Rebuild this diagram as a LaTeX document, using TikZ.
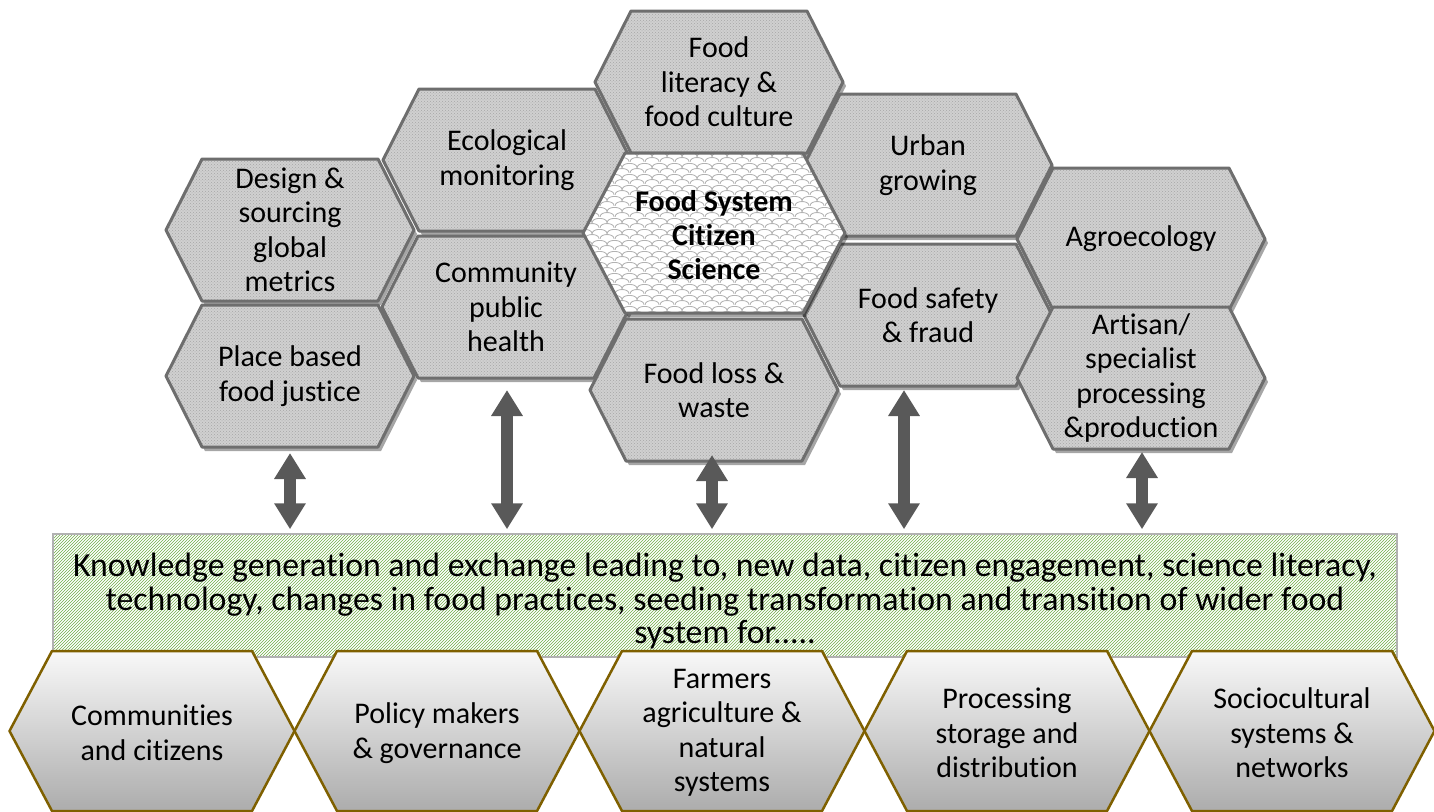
\documentclass[tikz,border=0pt]{standalone}
\usepackage{fontspec}
\setmainfont[Ligatures=NoCommon]{Carlito}
\usetikzlibrary{arrows.meta,patterns,calc}

% scale-like fill of the central cell
\pgfdeclarepatternformonly{scales}{\pgfqpoint{0pt}{0pt}}{\pgfqpoint{15pt}{11pt}}{\pgfqpoint{15pt}{11pt}}{%
  \pgfsetlinewidth{0.9pt}
  \pgfpathmoveto{\pgfqpoint{0pt}{0pt}}
  \pgfpathcurveto{\pgfqpoint{0pt}{6.5pt}}{\pgfqpoint{15pt}{6.5pt}}{\pgfqpoint{15pt}{0pt}}
  \pgfpathmoveto{\pgfqpoint{-7.5pt}{5.5pt}}
  \pgfpathcurveto{\pgfqpoint{-7.5pt}{12pt}}{\pgfqpoint{7.5pt}{12pt}}{\pgfqpoint{7.5pt}{5.5pt}}
  \pgfpathcurveto{\pgfqpoint{7.5pt}{12pt}}{\pgfqpoint{22.5pt}{12pt}}{\pgfqpoint{22.5pt}{5.5pt}}
  \pgfusepath{stroke}}

\definecolor{cellgray}{RGB}{208,208,208}
\definecolor{edgegray}{RGB}{110,110,110}
\definecolor{arrowgray}{RGB}{89,89,89}
\definecolor{hatchgreen}{RGB}{112,173,71}
\definecolor{gold}{RGB}{127,96,0}

% flat-topped hexagon: centre x, centre y, half width, half height, slant
\newcommand\hexpath[5]{(#1-#3,#2) -- (#1-#3+#5,#2-#4) -- (#1+#3-#5,#2-#4) -- (#1+#3,#2) -- (#1+#3-#5,#2+#4) -- (#1-#3+#5,#2+#4) -- cycle}

\newcommand\topcell[4]{%
  \fill[cellshadow] \hexpath{#2+3}{#3+4}{124}{71}{36};
  \draw[cellline] \hexpath{#2}{#3}{124}{71}{36};
  \node[celltext] (#1) at (#2,#3) {#4};
  \coordinate (#1-s) at (#2,#3+71);}

\newcommand\groundcell[3]{%
  \path[groundline] \hexpath{#2}{731}{142.5}{80}{42.5};
  \node[celltext] (#1) at (#2,733) {#3};}

\begin{document}
\begin{tikzpicture}[x=1pt,y=-1pt,
  celltext/.style={align=center,font=\fontsize{30}{34.5}\selectfont,inner sep=0pt},
  cellshadow/.style={fill=black,opacity=0.35},
  cellline/.style={draw=edgegray,line width=3pt,line join=round,
    preaction={fill=cellgray},preaction={pattern=crosshatch dots,pattern color=gray!70}},
  hubline/.style={draw=edgegray,line width=3pt,line join=round,
    preaction={fill=white},preaction={pattern=scales,pattern color=gray!60}},
  knowbox/.style={draw=gray!60,line width=1.5pt,preaction={fill=white},
    pattern=north east lines,pattern color=hatchgreen,
    minimum width=1344pt,minimum height=123pt},
  knowtext/.style={align=center,inner sep=0pt,font=\fontsize{33.8}{33.5}\selectfont},
  groundline/.style={draw=gold,line width=2.5pt,line join=round,top color=gray!5,bottom color=gray!65},
  link/.style={draw=arrowgray,line width=12pt,
    {Triangle[width=30pt,length=26pt]}-{Triangle[width=30pt,length=26pt]}}]
\useasboundingbox (0,0) rectangle (1434,811);

% topic cells
\topcell{literacy}{719}{82}{Food\\literacy \&\\food culture}
\topcell{ecological}{507}{160}{Ecological\\monitoring}
\topcell{urban}{928}{165}{Urban\\growing}
\topcell{design}{290}{230}{Design \&\\sourcing\\global\\metrics}
\topcell{agro}{1141}{239}{Agroecology}
\topcell{health}{506}{307}{Community\\public\\health}
\topcell{safety}{928}{315}{Food safety\\\& fraud}
\topcell{justice}{290}{376}{Place based\\food justice}
\topcell{artisan}{1141}{378}{Artisan/\\specialist\\processing\\\&production}
\topcell{loss}{714}{390}{Food loss \&\\waste}

% central cell
\fill[cellshadow] \hexpath{717}{237}{131}{80}{42};
\draw[hubline] \hexpath{714}{233}{131}{80}{42};
\node[celltext,font=\fontsize{30}{34}\selectfont\bfseries] (hub) at (714,235) {Food System\\Citizen\\Science};

% knowledge exchange
\node[knowbox] (knowledge) at (725,595.5) {};
\node[knowtext] (knowtext) at (725,601) {Knowledge generation and exchange leading to, new data, citizen engagement, science literacy,\\technology, changes in food practices, seeding transformation and transition of wider food\\system for.....};

\draw[link] ($(justice-s)+(0,6)$) -- ($(justice-s |- knowledge.north)+(0,-4)$);
\draw[link] ($(health-s)+(1,12)$) -- ($(health-s |- knowledge.north)+(1,-4)$);
\draw[link] ($(loss-s)+(-2,-6)$) -- ($(loss-s |- knowledge.north)+(-2,-4)$);
\draw[link] ($(safety-s)+(-24,4)$) -- ($(safety-s |- knowledge.north)+(-24,-4)$);
\draw[link] ($(artisan-s)+(1,3)$) -- ($(artisan-s |- knowledge.north)+(1,-4)$);

% stakeholder cells
\groundcell{communities}{152}{Communities\\and citizens}
\groundcell{policy}{437}{Policy makers\\\& governance}
\groundcell{farmers}{722}{Farmers\\agriculture \&\\natural\\systems}
\groundcell{processing}{1007}{Processing\\storage and\\distribution}
\groundcell{sociocultural}{1292}{Sociocultural\\systems \&\\networks}
\end{tikzpicture}
\end{document}
